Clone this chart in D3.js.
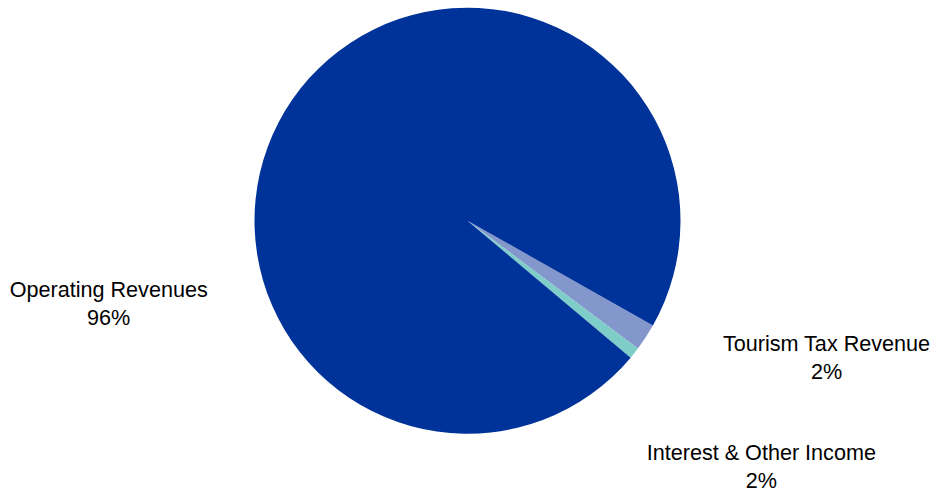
<!DOCTYPE html>
<html>
<head>
<meta charset="utf-8">
<script src="https://cdn.jsdelivr.net/npm/d3@7"></script>
<style>
  html, body { margin: 0; padding: 0; background: #ffffff; }
  svg { display: block; }
  text { font-family: "Liberation Sans", Arial, sans-serif; fill: #000; }
</style>
</head>
<body>
<svg id="chart" width="939" height="493"></svg>
<script>
// Data (slice order clockwise from the start angle)
const categories = ["Tourism Tax Revenue", "Interest & Other Income", "Operating Revenues"];
const values = [2.05, 0.87, 97.08];
const percentLabels = ["2%", "2%", "96%"];
const colors = ["#8497cc", "#7fcdc8", "#003399"];

const width = 939, height = 493;
const cx = 467.5, cy = 220.7, radius = 213;

const svg = d3.select("#chart");
const g = svg.append("g").attr("transform", `translate(${cx},${cy})`);

const startDeg = 119.5;
const pie = d3.pie()
  .sort(null)
  .value(d => d.value)
  .startAngle(startDeg * Math.PI / 180)
  .endAngle((startDeg + 360) * Math.PI / 180);

const data = categories.map((c, i) => ({ name: c, value: values[i], pct: percentLabels[i], color: colors[i] }));
const arcs = pie(data);
const arc = d3.arc().innerRadius(0).outerRadius(radius);

g.selectAll("path.slice")
  .data(arcs)
  .join("path")
  .attr("class", "slice")
  .attr("d", arc)
  .attr("fill", d => d.data.color);

// Label positions (outside the pie, as placed in the reference)
const labelPos = {
  "Tourism Tax Revenue": [826.5, 351],
  "Interest & Other Income": [761.3, 460],
  "Operating Revenues": [108.7, 297]
};
const lineGap = 27.5;

const labels = svg.selectAll("text.lbl")
  .data(arcs)
  .join("text")
  .attr("class", "lbl")
  .attr("text-anchor", "middle")
  .attr("font-size", 21.6);

labels.append("tspan")
  .attr("x", d => labelPos[d.data.name][0])
  .attr("y", d => labelPos[d.data.name][1])
  .text(d => d.data.name);
labels.append("tspan")
  .attr("x", d => labelPos[d.data.name][0])
  .attr("y", d => labelPos[d.data.name][1] + lineGap)
  .text(d => d.data.pct);
</script>
</body>
</html>
